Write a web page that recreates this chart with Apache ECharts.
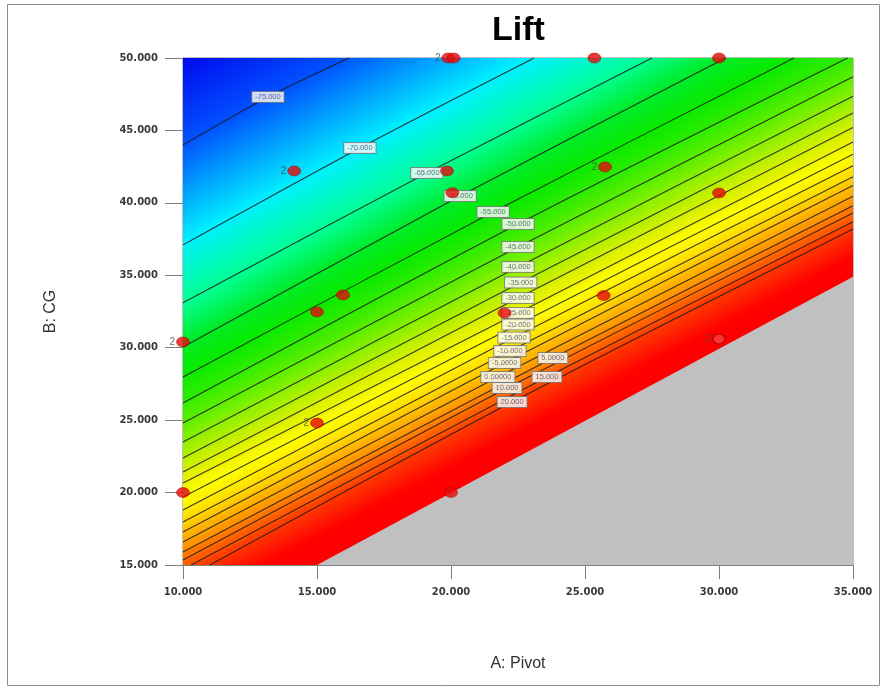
<!DOCTYPE html>
<html>
<head>
<meta charset="utf-8">
<title>Lift</title>
<script src="https://cdn.jsdelivr.net/npm/echarts@6/dist/echarts.min.js"></script>
<style>
  html, body { margin: 0; padding: 0; background: #fff; }
  #chart { width: 884px; height: 689px; }
</style>
</head>
<body>
<div id="chart"></div>
<script>
// contour levels of Lift, as printed on the contour labels
const levels = [-75, -70, -65, -60, -55, -50, -45, -40, -35, -30, -25, -20, -15, -10, -5, 0, 5, 10, 15, 20]
const levelText = ['-75.000', '-70.000', '-65.000', '-60.000', '-55.000', '-50.000', '-45.000', '-40.000',
  '-35.000', '-30.000', '-25.000', '-20.000', '-15.000', '-10.000', '-5.0000', '0.00000', '5.0000',
  '10.000', '15.000', '20.000']

// contour paths in [A: Pivot, B: CG]: edge where the line enters, label point, edge where it leaves
const contourStart = [
  [10, 44.0], [10, 37.1], [10, 33.1], [10, 30.05], [10, 27.98], [10, 26.18], [10, 24.8], [10, 23.49],
  [10, 22.39], [10, 21.42], [10, 20.66], [10, 19.69], [10, 18.8], [10, 17.97], [10, 17.28], [10, 16.59],
  [10, 15.9], [10, 15.35], [10.3, 15], [11.0, 15]
]
const contourMid = [
  [13.17, 47.31], [16.6, 43.79], [19.1, 42.06], [20.34, 40.47], [21.57, 39.37], [22.5, 38.54],
  [22.5, 36.95], [22.5, 35.57], [22.6, 34.5], [22.5, 33.43], [22.5, 32.4], [22.5, 31.6],
  [22.35, 30.7], [22.2, 29.77], [22.0, 28.95], [21.75, 27.98], [23.8, 29.29], [22.09, 27.22],
  [23.58, 27.98], [22.28, 26.25]
]
const contourEnd = [
  [16.2, 50], [23.1, 50], [27.5, 50], [30.25, 50], [32.8, 50], [34.8, 50], [35, 48.7], [35, 47.36],
  [35, 46.2], [35, 45.2], [35, 44.2], [35, 43.36], [35, 42.56], [35, 41.8], [35, 41.2], [35, 40.45],
  [35, 39.8], [35, 39.3], [35, 38.7], [35, 38.2]
]

// grey area outside the design space (below this edge)
const infeasibleEdge = [[15, 15], [35, 34.9]]

// design points [A, CG, replicates]
const designPoints = [
  [19.9, 50, 2], [20.1, 50, 1], [25.35, 50, 1], [30, 50, 1],
  [14.15, 42.2, 2], [19.85, 42.2, 1], [20.05, 40.7, 1], [25.75, 42.48, 2], [30, 40.68, 1],
  [15.97, 33.64, 1], [15.0, 32.47, 1], [10, 30.4, 2], [22.0, 32.4, 1], [25.7, 33.6, 1],
  [15.0, 24.8, 2], [10, 20, 1], [20, 20, 1]
]
const outsidePoints = [[30, 30.6, 2]]

// colour ramp of the surface, by Lift level
const rampStops = [
  [-80, '#0008f0'], [-75, '#0050ff'], [-70, '#00f0ff'], [-65, '#00ff96'], [-60, '#00ec2a'],
  [-55, '#08ea00'], [-50, '#2aec00'], [-45, '#58ee00'], [-40, '#86f000'], [-35, '#b0f000'],
  [-30, '#d2f000'], [-25, '#eef400'], [-20, '#ffff00'], [-15, '#fff000'], [-10, '#ffdc00'],
  [-5, '#ffc400'], [0, '#ffaa00'], [5, '#ff9000'], [10, '#ff7400'], [15, '#ff5800'],
  [20, '#ff3c00'], [25, '#ff0000']
]

const hex = c => [1, 3, 5].map(i => parseInt(c.substr(i, 2), 16))
const rampColor = v => {
  if (v <= rampStops[0][0]) return rampStops[0][1]
  for (let i = 1; i < rampStops.length; i++) {
    if (v <= rampStops[i][0]) {
      const [v0, c0] = rampStops[i - 1]
      const [v1, c1] = rampStops[i]
      const t = (v - v0) / (v1 - v0)
      const a = hex(c0), b = hex(c1)
      return 'rgb(' + a.map((x, k) => Math.round(x + (b[k] - x) * t)).join(',') + ')'
    }
  }
  return rampStops[rampStops.length - 1][1]
}

const chart = echarts.init(document.getElementById('chart'))

// unit normal of a contour (pixel space), pointing towards lower Lift (up-left)
const contourNormal = (api, i) => {
  const s = api.coord(contourStart[i])
  const e = api.coord(contourEnd[i])
  let nx = e[1] - s[1], ny = -(e[0] - s[0])
  if (ny > 0) { nx = -nx; ny = -ny }
  const len = Math.hypot(nx, ny)
  return [nx / len, ny / len]
}

const gradientFill = (p, n, d, c0, c1) =>
  new echarts.graphic.LinearGradient(p[0], p[1], p[0] + n[0] * d, p[1] + n[1] * d,
    [{ offset: 0, color: c0 }, { offset: 1, color: c1 }], true)

// each item paints the region on the low side of one contour; later items cover earlier ones
const renderBand = (params, api) => {
  const k = api.value(2)
  const last = levels.length - 1
  if (k < 0) {
    // whole plot, shading past the highest contour
    const p = api.coord(contourMid[last])
    const n = contourNormal(api, last)
    const pts = [[10, 15], [35, 15], [35, 50], [10, 50]].map(q => api.coord(q))
    return {
      type: 'polygon',
      shape: { points: pts },
      style: { fill: gradientFill(p, n, -30, rampColor(levels[last]), rampColor(levels[last] + 5)) }
    }
  }
  const s = contourStart[k], e = contourEnd[k]
  const path = [s, contourMid[k], e]
  if (e[0] >= 35) path.push([35, 50])
  path.push([10, 50])
  if (s[1] <= 15) path.push([10, 15])
  const pts = path.map(q => api.coord(q))
  const p = api.coord(contourMid[k])
  const n = contourNormal(api, k)
  const target = k > 0 ? api.coord(contourMid[k - 1]) : api.coord([10, 50])
  const d = (target[0] - p[0]) * n[0] + (target[1] - p[1]) * n[1]
  const nextLevel = k > 0 ? levels[k - 1] : levels[0] - 5
  return {
    type: 'polygon',
    shape: { points: pts },
    style: { fill: gradientFill(p, n, d, rampColor(levels[k]), rampColor(nextLevel)) }
  }
}

const bandData = [[10, 15, -1]]
for (let k = levels.length - 1; k >= 0; k--) bandData.push([10, 15, k])

const contourSeries = levels.map((lv, i) => ({
  name: 'contour ' + lv,
  type: 'line',
  data: [contourStart[i], contourMid[i], contourEnd[i]],
  smooth: 0.25,
  symbol: 'none',
  silent: true,
  z: 3,
  lineStyle: { color: '#1a1a1a', width: 1.1, opacity: 0.85 }
}))

const option = {
  animation: false,
  backgroundColor: '#fff',
  title: {
    text: 'Lift',
    left: 487,
    top: 9,
    textStyle: { fontFamily: 'Liberation Sans', fontSize: 34, fontWeight: 'bold', color: '#000' }
  },
  graphic: [{
    type: 'rect',
    shape: { x: 7.5, y: 4.5, width: 872, height: 681 },
    style: { fill: 'none', stroke: '#8c8c8c', lineWidth: 1 },
    silent: true
  }],
  grid: {
    left: 183, right: 31, top: 58, bottom: 124,
    show: true, borderColor: '#808080', borderWidth: 1, backgroundColor: 'transparent'
  },
  xAxis: {
    type: 'value', min: 10, max: 35, interval: 5,
    name: 'A: Pivot', nameLocation: 'middle', nameGap: 91,
    nameTextStyle: { fontFamily: 'Liberation Sans', fontSize: 16, color: '#333' },
    axisLine: { show: true, lineStyle: { color: '#808080' } },
    axisTick: { show: true, length: 14, lineStyle: { color: '#808080' } },
    axisLabel: {
      margin: 22, formatter: v => v.toFixed(3),
      fontFamily: 'DejaVu Sans', fontSize: 10, fontWeight: 'bold', color: '#3a3a3a'
    },
    splitLine: { show: false }
  },
  yAxis: {
    type: 'value', min: 15, max: 50, interval: 5,
    name: 'B: CG', nameLocation: 'middle', nameGap: 124,
    nameTextStyle: { fontFamily: 'Liberation Sans', fontSize: 16, color: '#333' },
    axisLine: { show: true, lineStyle: { color: '#808080' } },
    axisTick: { show: true, length: 18, lineStyle: { color: '#808080' } },
    axisLabel: {
      margin: 25, formatter: v => v.toFixed(3),
      fontFamily: 'DejaVu Sans', fontSize: 10, fontWeight: 'bold', color: '#3a3a3a'
    },
    splitLine: { show: false }
  },
  series: [
    {
      name: 'surface',
      type: 'custom',
      renderItem: renderBand,
      data: bandData,
      encode: { x: 0, y: 1 },
      silent: true,
      z: 1
    },
    ...contourSeries,
    {
      name: 'outside',
      type: 'custom',
      renderItem: (params, api) => ({
        type: 'polygon',
        shape: { points: [infeasibleEdge[0], infeasibleEdge[1], [35, 15]].map(q => api.coord(q)) },
        style: { fill: '#c0c0c0' }
      }),
      data: [[35, 15]],
      encode: { x: 0, y: 1 },
      silent: true,
      z: 4
    },
    {
      name: 'contour labels',
      type: 'scatter',
      data: contourMid.map((m, i) => [m[0], m[1], i]),
      symbolSize: 1,
      itemStyle: { color: 'rgba(0,0,0,0)' },
      silent: true,
      z: 5,
      label: {
        show: true,
        position: 'inside',
        formatter: p => levelText[p.value[2]],
        fontFamily: 'Liberation Sans',
        fontSize: 7.5,
        color: '#4a4f6a',
        backgroundColor: '#fff',
        borderColor: '#7a7a7a',
        borderWidth: 1,
        padding: [1, 3]
      }
    },
    {
      name: 'design points',
      type: 'scatter',
      data: designPoints,
      symbol: 'circle',
      symbolSize: [13, 10],
      clip: false,
      z: 6,
      itemStyle: { color: '#e40a0a', borderColor: '#a80000', borderWidth: 0.6 },
      label: {
        show: true,
        position: 'left',
        distance: 1,
        formatter: p => (p.value[2] > 1 ? String(p.value[2]) : ''),
        fontFamily: 'Liberation Sans',
        fontSize: 10,
        color: '#4a4a4a'
      }
    },
    {
      name: 'outside points',
      type: 'scatter',
      data: outsidePoints,
      symbol: 'circle',
      symbolSize: [12, 10],
      clip: false,
      z: 6,
      itemStyle: { color: 'rgba(255,255,255,0.25)', borderColor: '#b00000', borderWidth: 1.4 },
      label: {
        show: true,
        position: 'left',
        distance: 1,
        formatter: p => String(p.value[2]),
        fontFamily: 'Liberation Sans',
        fontSize: 10,
        color: '#4a4a4a'
      }
    }
  ]
}

chart.setOption(option)
</script>
</body>
</html>
